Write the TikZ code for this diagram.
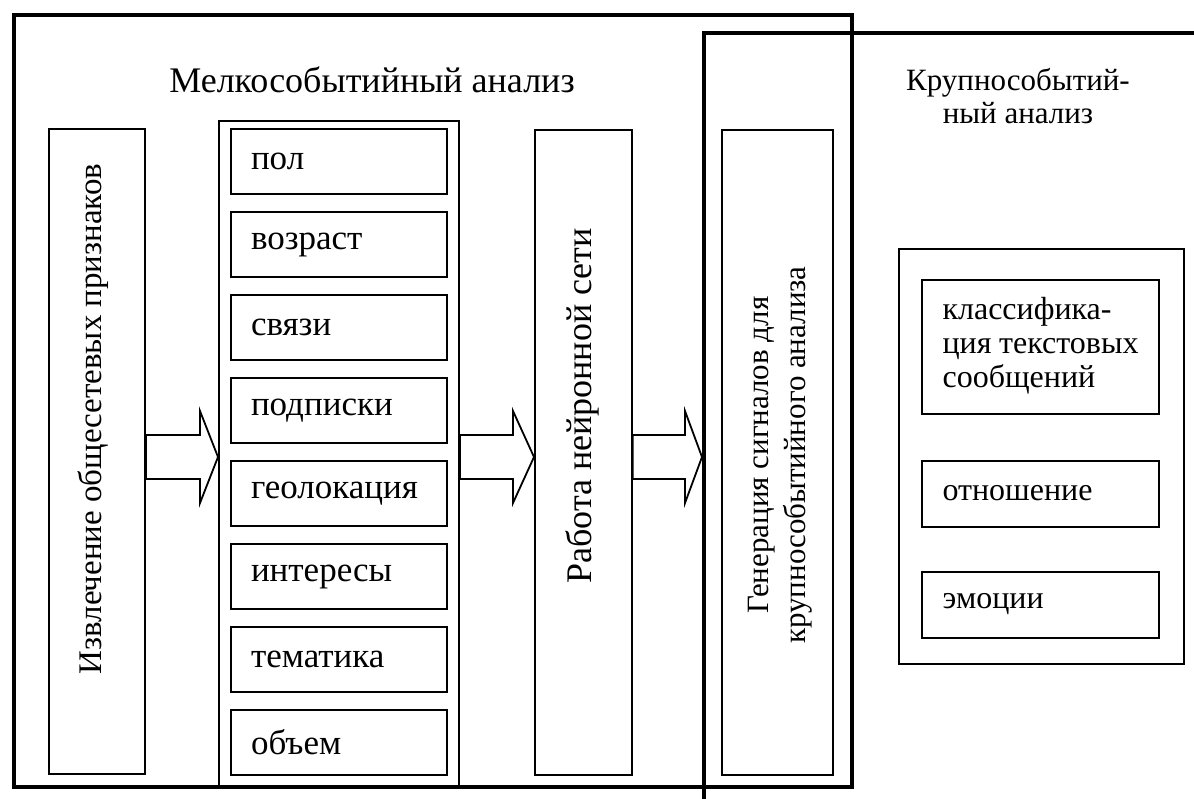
\documentclass[tikz,border=0pt]{standalone}
\usepackage{fontspec}
\setmainfont{Liberation Serif}
\usetikzlibrary{calc}
\newcommand\blkarrow[3]{%
  \draw[barrow] ($(#1.east|-ay)+(0,-22)$) -- ($(#2.west|-ay)+(-#3,-22)$) -- ($(#2.west|-ay)+(-#3,-46)$) -- (#2.west|-ay) -- ($(#2.west|-ay)+(-#3,46)$) -- ($(#2.west|-ay)+(-#3,22)$) -- ($(#1.east|-ay)+(0,22)$) -- cycle;}
\begin{document}
\begin{tikzpicture}[x=1pt,y=-1pt,
  frame/.style={draw,line width=4pt,rectangle,inner sep=0pt,anchor=north west},
  box/.style={draw,line width=2pt,rectangle,inner sep=0pt,anchor=north west},
  feat/.style={box,minimum width=216pt,minimum height=65pt,text width=176pt,inner xsep=20pt,align=left,font=\fontsize{35}{40}\selectfont},
  big/.style={font=\fontsize{36}{40}\selectfont},
  mid/.style={font=\fontsize{32}{34}\selectfont},
  barrow/.style={draw,line width=1.8pt,fill=white,line join=miter}]
\useasboundingbox (0,0) rectangle (1194,798);
\fill[white] (0,0) rectangle (1194,798);
% frames
\node[frame,minimum width=838pt,minimum height=772pt] (small) at (12,13) {};
\node[frame,minimum width=600pt,minimum height=900pt] (large) at (702,31) {};
% left part
\node[box,minimum width=96pt,minimum height=645pt] (ext) at (48,128) {};
\node[box,minimum width=240pt,minimum height=665pt] (col) at (218,120) {};
\node[feat] (f1) at (230,128) {пол};
\node[feat] (f2) at (230,211) {возраст};
\node[feat] (f3) at (230,294) {связи};
\node[feat] (f4) at (230,377) {подписки};
\node[feat] (f5) at (230,460) {геолокация};
\node[feat] (f6) at (230,543) {интересы};
\node[feat] (f7) at (230,626) {тематика};
\node[feat] (f8) at (230,709) {объем};
\node[box,line width=1.6pt,minimum width=97pt,minimum height=645pt] (nn) at (534,129) {};
\node[box,line width=1.6pt,minimum width=111pt,minimum height=645pt] (gen) at (721,129) {};
% right part
\node[box,minimum width=285pt,minimum height=415pt] (rbox) at (898,248) {};
\node[box,minimum width=237pt,minimum height=134pt] (cls) at (921,279) {};
\node[box,minimum width=237pt,minimum height=66pt] (rel) at (921,460) {};
\node[box,minimum width=237pt,minimum height=66pt] (emo) at (921,571) {};
% texts
\node[big] (t1) at (372,80) {Мелкособытийный анализ};
\node[font=\fontsize{31}{33}\selectfont,align=center] (t2) at (1018,96) {Крупнособытий-\\ный анализ};
\node[font=\fontsize{33}{36}\selectfont,rotate=90] (text) at (93,419) {Извлечение общесетевых признаков};
\node[big,rotate=90] (tnn) at (582,406) {Работа нейронной сети};
\node[font=\fontsize{31}{37}\selectfont,rotate=90,align=center] (tgen) at (780,455) {Генерация сигналов для\\крупнособытийного анализа};
\node[mid,align=left,anchor=west] (tcls) at (939,346) {классифика-\\\makebox[196pt][s]{ция\hfill текстовых}\\сообщений};
\node[mid,anchor=west] (trel) at (939,493) {отношение};
\node[mid,anchor=west] (temo) at (939,604) {эмоции};
% arrows
\coordinate (ay) at (0,457);
\blkarrow{ext}{col}{18}
\blkarrow{col}{nn}{21}
\blkarrow{nn}{large}{17}
\end{tikzpicture}
\end{document}
